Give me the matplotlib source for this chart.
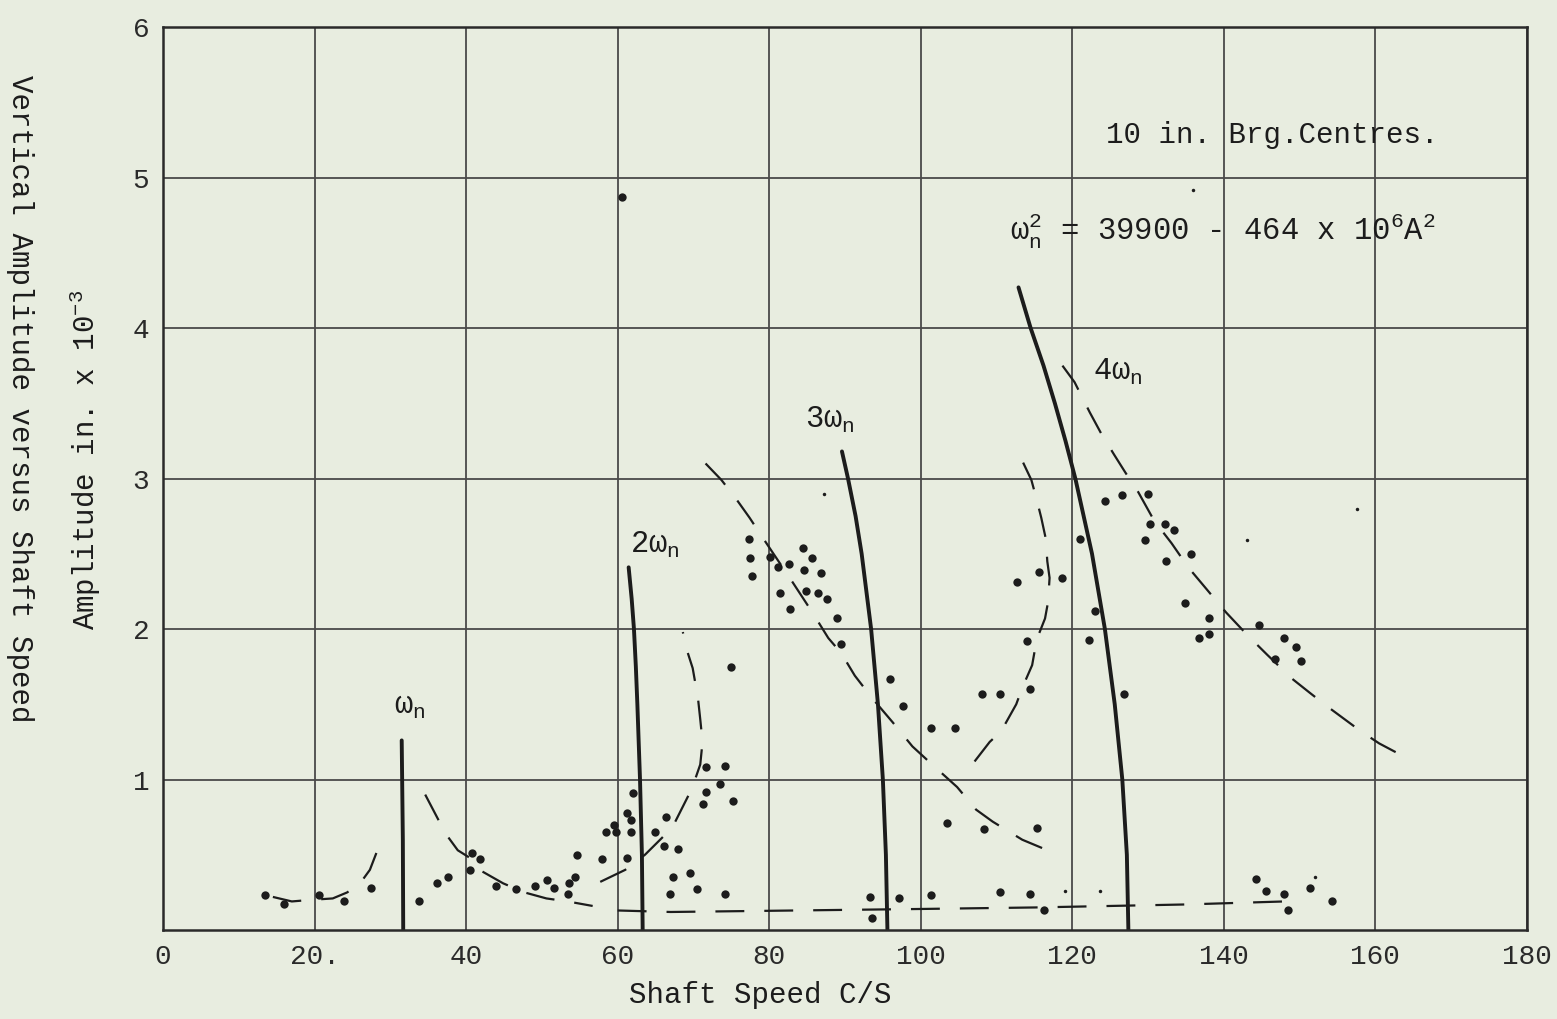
import numpy as np
import matplotlib
matplotlib.use("Agg")
import matplotlib.pyplot as plt

plt.rcParams['font.family'] = ['Liberation Mono', 'DejaVu Sans Mono']
plt.rcParams['mathtext.fontset'] = 'custom'
plt.rcParams['mathtext.rm'] = 'Liberation Mono'
plt.rcParams['mathtext.it'] = 'Liberation Mono'
plt.rcParams['mathtext.default'] = 'rm'

paper = '#e8ede0'
ink = '#1c1c1c'

# backbone curves (amplitude in. x 10^-3 vs shaft speed c/s)
w1_amp = [0.0, 0.6, 1.26]
w1_speed = [31.7, 31.65, 31.5]
w2_amp = [0.0, 0.5, 1.0, 1.5, 1.75, 2.0, 2.2, 2.41]
w2_speed = [63.3, 63.2, 62.95, 62.6, 62.4, 62.15, 61.85, 61.45]
w3_amp = [0.0, 0.5, 1.0, 1.5, 2.0, 2.5, 2.75, 3.0, 3.18]
w3_speed = [95.6, 95.4, 95.0, 94.35, 93.45, 92.2, 91.4, 90.4, 89.6]
w4_amp = [0.0, 0.5, 1.0, 1.5, 2.0, 2.5, 3.0, 3.25, 3.5, 3.75, 4.0, 4.27]
w4_speed = [127.4, 127.2, 126.6, 125.6, 124.3, 122.6, 120.4, 119.1, 117.7, 116.2, 114.5, 112.9]

# dashed response curves
dA_x = [14.5, 17.0, 19.4, 22.4, 24.3, 26.0, 27.3, 28.6]
dA_y = [0.22, 0.19, 0.20, 0.21, 0.25, 0.31, 0.40, 0.57]
dB_x = [34.6, 37.3, 38.9, 40.8, 42.1, 44.9, 47.7, 50.6, 53.4, 56.7]
dB_y = [0.90, 0.64, 0.53, 0.47, 0.39, 0.31, 0.25, 0.21, 0.19, 0.16]
dC_x = [57.7, 61.0, 63.6, 67.2, 68.2, 69.8, 70.9, 71.2, 70.9, 70.6, 69.9, 69.2, 68.6]
dC_y = [0.32, 0.40, 0.50, 0.68, 0.78, 0.94, 1.10, 1.25, 1.40, 1.54, 1.74, 1.85, 1.98]
dE_x = [71.6, 73.7, 75.7, 77.4, 79.1, 81.1, 83.1, 85.7, 87.8, 89.5, 91.3, 93.6,
        96.3, 98.9, 101.5, 104.8, 107.3, 109.5, 113.4, 117.2]
dE_y = [3.10, 2.99, 2.86, 2.74, 2.61, 2.46, 2.31, 2.11, 1.94, 1.84, 1.69, 1.54,
        1.38, 1.22, 1.10, 0.95, 0.80, 0.72, 0.60, 0.52]
dF_x = [107.1, 109.1, 110.6, 112.6, 113.4, 114.7, 115.3, 116.4, 116.8, 117.0,
        116.7, 116.5, 115.9, 115.3, 114.6, 113.0]
dF_y = [1.12, 1.25, 1.32, 1.50, 1.61, 1.76, 1.93, 2.07, 2.18, 2.34,
        2.45, 2.60, 2.74, 2.86, 2.99, 3.16]
dG_x = [118.7, 120.3, 122.3, 123.8, 125.5, 127.0, 128.7, 130.8, 133.1, 135.3,
        137.8, 140.3, 143.1, 145.7, 149.0, 151.5, 153.8, 158.1, 160.5, 163.5]
dG_y = [3.75, 3.64, 3.44, 3.30, 3.16, 3.04, 2.91, 2.72, 2.57, 2.41,
        2.26, 2.11, 1.96, 1.83, 1.67, 1.57, 1.48, 1.32, 1.24, 1.16]
dL_x = [60.0, 67.0, 100.0, 115.0, 135.0, 148.0]
dL_y = [0.13, 0.12, 0.14, 0.15, 0.17, 0.19]

# measured points
pt_x = [13.5, 16.0, 20.6, 23.9, 27.4, 33.8, 36.1, 37.6, 40.5, 40.8, 41.8, 44.0,
        46.6, 49.1, 50.7, 51.6, 53.5, 53.6, 54.4, 54.6, 57.9, 58.4, 59.5, 59.8,
        61.2, 62.0, 61.8, 61.8, 61.2,
        77.3, 77.5, 77.7, 80.1, 81.2, 82.6, 84.4, 85.6, 84.6, 86.8, 81.4, 84.8,
        86.5, 87.6, 82.7, 88.9, 89.5, 75.0, 95.9, 97.7, 101.3, 104.5,
        71.6, 74.1, 73.5, 71.7, 75.2, 71.2, 66.4, 68.0, 66.1, 64.9, 103.4,
        67.3, 69.5, 70.5, 66.9, 74.1, 93.3, 93.5, 97.1, 101.4,
        124.3, 126.5, 130.0, 130.3, 132.2, 133.4, 129.6, 135.6, 132.3, 121.0,
        115.6, 118.6, 112.7, 123.0, 134.9, 138.1, 138.1, 136.7, 144.7, 148.0,
        149.5, 150.2, 146.8, 122.2, 114.0, 108.1, 110.5, 114.4, 126.8,
        108.4, 115.3, 110.4, 114.4, 116.2, 144.2, 145.6, 147.9, 148.4, 151.4,
        154.3, 60.6]
pt_y = [0.23, 0.17, 0.23, 0.19, 0.28, 0.19, 0.31, 0.35, 0.40, 0.51, 0.47, 0.29,
        0.27, 0.29, 0.33, 0.28, 0.24, 0.31, 0.35, 0.50, 0.47, 0.65, 0.70, 0.65,
        0.78, 0.91, 0.73, 0.65, 0.48,
        2.60, 2.47, 2.35, 2.48, 2.41, 2.43, 2.54, 2.47, 2.39, 2.37, 2.24, 2.25,
        2.24, 2.20, 2.13, 2.07, 1.90, 1.75, 1.67, 1.49, 1.34, 1.34,
        1.08, 1.09, 0.97, 0.92, 0.86, 0.84, 0.75, 0.54, 0.56, 0.65, 0.71,
        0.35, 0.38, 0.27, 0.24, 0.24, 0.22, 0.08, 0.21, 0.23,
        2.85, 2.89, 2.90, 2.70, 2.70, 2.66, 2.59, 2.50, 2.45, 2.60,
        2.38, 2.34, 2.31, 2.12, 2.17, 2.07, 1.97, 1.94, 2.03, 1.94,
        1.88, 1.79, 1.80, 1.93, 1.92, 1.57, 1.57, 1.60, 1.57,
        0.67, 0.68, 0.25, 0.24, 0.13, 0.34, 0.26, 0.24, 0.13, 0.28,
        0.19, 4.87]
small_x = [87.2, 143.1, 157.6, 152.0, 119.1, 123.6, 135.9]
small_y = [2.90, 2.59, 2.80, 0.35, 0.26, 0.26, 4.92]

xtick_vals = [0, 20, 40, 60, 80, 100, 120, 140, 160, 180]
xtick_text = ['0', '20.', '40', '60', '80', '100', '120', '140', '160', '180']
ytick_vals = [1, 2, 3, 4, 5, 6]

fig = plt.figure(figsize=(15.57, 10.19), dpi=100, facecolor=paper)
ax = fig.add_axes([0.1047, 0.0873, 0.8760, 0.8862], facecolor=paper)
ax.set_xlim(0, 180)
ax.set_ylim(0, 6)
ax.set_xticks(xtick_vals)
ax.set_xticklabels(xtick_text)
ax.set_yticks(ytick_vals)
ax.tick_params(length=0, labelsize=20, colors='#2a2a2a', pad=10)
ax.grid(True, color='#4a4a4a', lw=1.3)
ax.set_axisbelow(True)
for s in ax.spines.values():
    s.set_color('#2a2a2a')
    s.set_linewidth(1.8)

# backbones
for sp, am in [(w1_speed, w1_amp), (w2_speed, w2_amp), (w3_speed, w3_amp), (w4_speed, w4_amp)]:
    ax.plot(sp, am, color=ink, lw=2.8, solid_capstyle='round', solid_joinstyle='round')

# dashed response curves
for dx, dy in [(dA_x, dA_y), (dB_x, dB_y), (dC_x, dC_y), (dE_x, dE_y),
               (dF_x, dF_y), (dG_x, dG_y), (dL_x, dL_y)]:
    ax.plot(dx, dy, color=ink, lw=1.6, linestyle=(0, (13, 9)))

ax.plot(pt_x, pt_y, 'o', color=ink, ms=6, mec='none')
ax.plot(small_x, small_y, 'o', color=ink, ms=2.5, mec='none')

lab = dict(color=ink, fontsize=22, ha='center', va='center')
ax.text(32.6, 1.49, r'$\omega_n$', **lab)
ax.text(64.9, 2.56, r'$2\omega_n$', **lab)
ax.text(88.0, 3.39, r'$3\omega_n$', **lab)
ax.text(126.0, 3.71, r'$4\omega_n$', **lab)
ax.text(124.5, 5.28, '10 in. Brg.Centres.', color=ink, fontsize=21, ha='left', va='center')
ax.text(111.8, 4.64, r'$\omega_n^2$ = 39900 - 464 x 10$^6$A$^2$', color=ink,
        fontsize=22, ha='left', va='center')

fig.text(0.488, 0.024, 'Shaft Speed C/S', color=ink, fontsize=21, ha='center', va='center')
fig.text(0.0546, 0.549, r'Amplitude in. x 10$^{-3}$', color=ink, fontsize=21,
         rotation=90, ha='center', va='center')
fig.text(0.0128, 0.609, 'Vertical Amplitude versus Shaft Speed', color=ink, fontsize=21,
         rotation=270, ha='center', va='center')

fig.savefig('out.png', dpi=100, facecolor=paper)
